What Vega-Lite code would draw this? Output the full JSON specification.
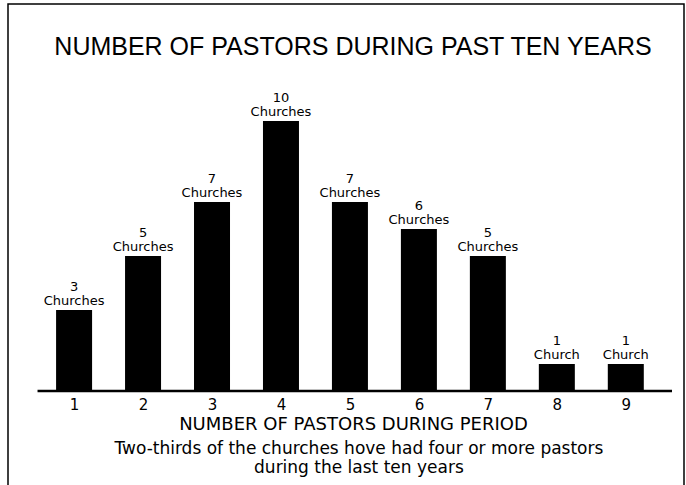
{
  "$schema": "https://vega.github.io/schema/vega-lite/v6.json",
  "width": 676,
  "height": 486,
  "autosize": {"type": "none"},
  "padding": {"left": 8, "top": 4, "right": 2, "bottom": 0},
  "background": "white",
  "config": {"view": {"stroke": "black", "strokeWidth": 1.5}},
  "title": {
    "text": "NUMBER OF PASTORS DURING PAST TEN YEARS",
    "font": "Liberation Sans",
    "fontSize": 25,
    "fontWeight": "normal",
    "color": "black",
    "anchor": "middle",
    "dy": 60,
    "dx": 7
  },
  "layer": [
    {
      "data": {
        "values": [
          {"pastors": 1, "churches": 3, "label": "3\nChurches"},
          {"pastors": 2, "churches": 5, "label": "5\nChurches"},
          {"pastors": 3, "churches": 7, "label": "7\nChurches"},
          {"pastors": 4, "churches": 10, "label": "10\nChurches"},
          {"pastors": 5, "churches": 7, "label": "7\nChurches"},
          {"pastors": 6, "churches": 6, "label": "6\nChurches"},
          {"pastors": 7, "churches": 5, "label": "5\nChurches"},
          {"pastors": 8, "churches": 1, "label": "1\nChurch"},
          {"pastors": 9, "churches": 1, "label": "1\nChurch"}
        ]
      },
      "encoding": {
        "x": {
          "field": "pastors",
          "type": "quantitative",
          "scale": {"domain": [0.1143, 9.7714], "nice": false, "zero": false},
          "axis": {
            "values": [1, 2, 3, 4, 5, 6, 7, 8, 9],
            "format": "d",
            "offset": -99,
            "domain": false,
            "ticks": false,
            "grid": false,
            "labelFont": "DejaVu Sans",
            "labelFontSize": 15,
            "labelColor": "black",
            "labelPadding": 6,
            "labelFlush": false,
            "title": "NUMBER OF PASTORS DURING PERIOD",
            "titleFont": "DejaVu Sans",
            "titleFontSize": 18,
            "titleFontWeight": "normal",
            "titleColor": "black",
            "titlePadding": 3,
            "titleX": 345
          }
        },
        "y": {
          "field": "churches",
          "type": "quantitative",
          "scale": {"domain": [-3.667, 14.333], "nice": false, "zero": false},
          "axis": null
        }
      },
      "layer": [
        {"mark": {"type": "bar", "size": 36, "color": "black"}},
        {
          "mark": {
            "type": "text",
            "lineBreak": "\n",
            "baseline": "bottom",
            "dy": -16,
            "font": "DejaVu Sans",
            "fontSize": 13,
            "lineHeight": 14,
            "color": "black"
          },
          "encoding": {"text": {"field": "label"}}
        }
      ]
    },
    {
      "data": {"values": [{"from": 0.47, "to": 9.67, "base": 0}]},
      "mark": {"type": "rule", "strokeWidth": 2.5, "color": "black"},
      "encoding": {
        "x": {"field": "from", "type": "quantitative"},
        "x2": {"field": "to"},
        "y": {"field": "base", "type": "quantitative"}
      }
    },
    {
      "data": {"values": [{"text": ["Two-thirds of the churches hove had four or more pastors", "during the last ten years"], "pos": 5.13, "level": -2.13}]},
      "mark": {
        "type": "text",
        "baseline": "middle",
        "align": "center",
        "font": "DejaVu Sans",
        "fontSize": 17,
        "lineHeight": 19,
        "color": "black"
      },
      "encoding": {
        "x": {"field": "pos", "type": "quantitative"},
        "y": {"field": "level", "type": "quantitative"},
        "text": {"field": "text"}
      }
    }
  ]
}
